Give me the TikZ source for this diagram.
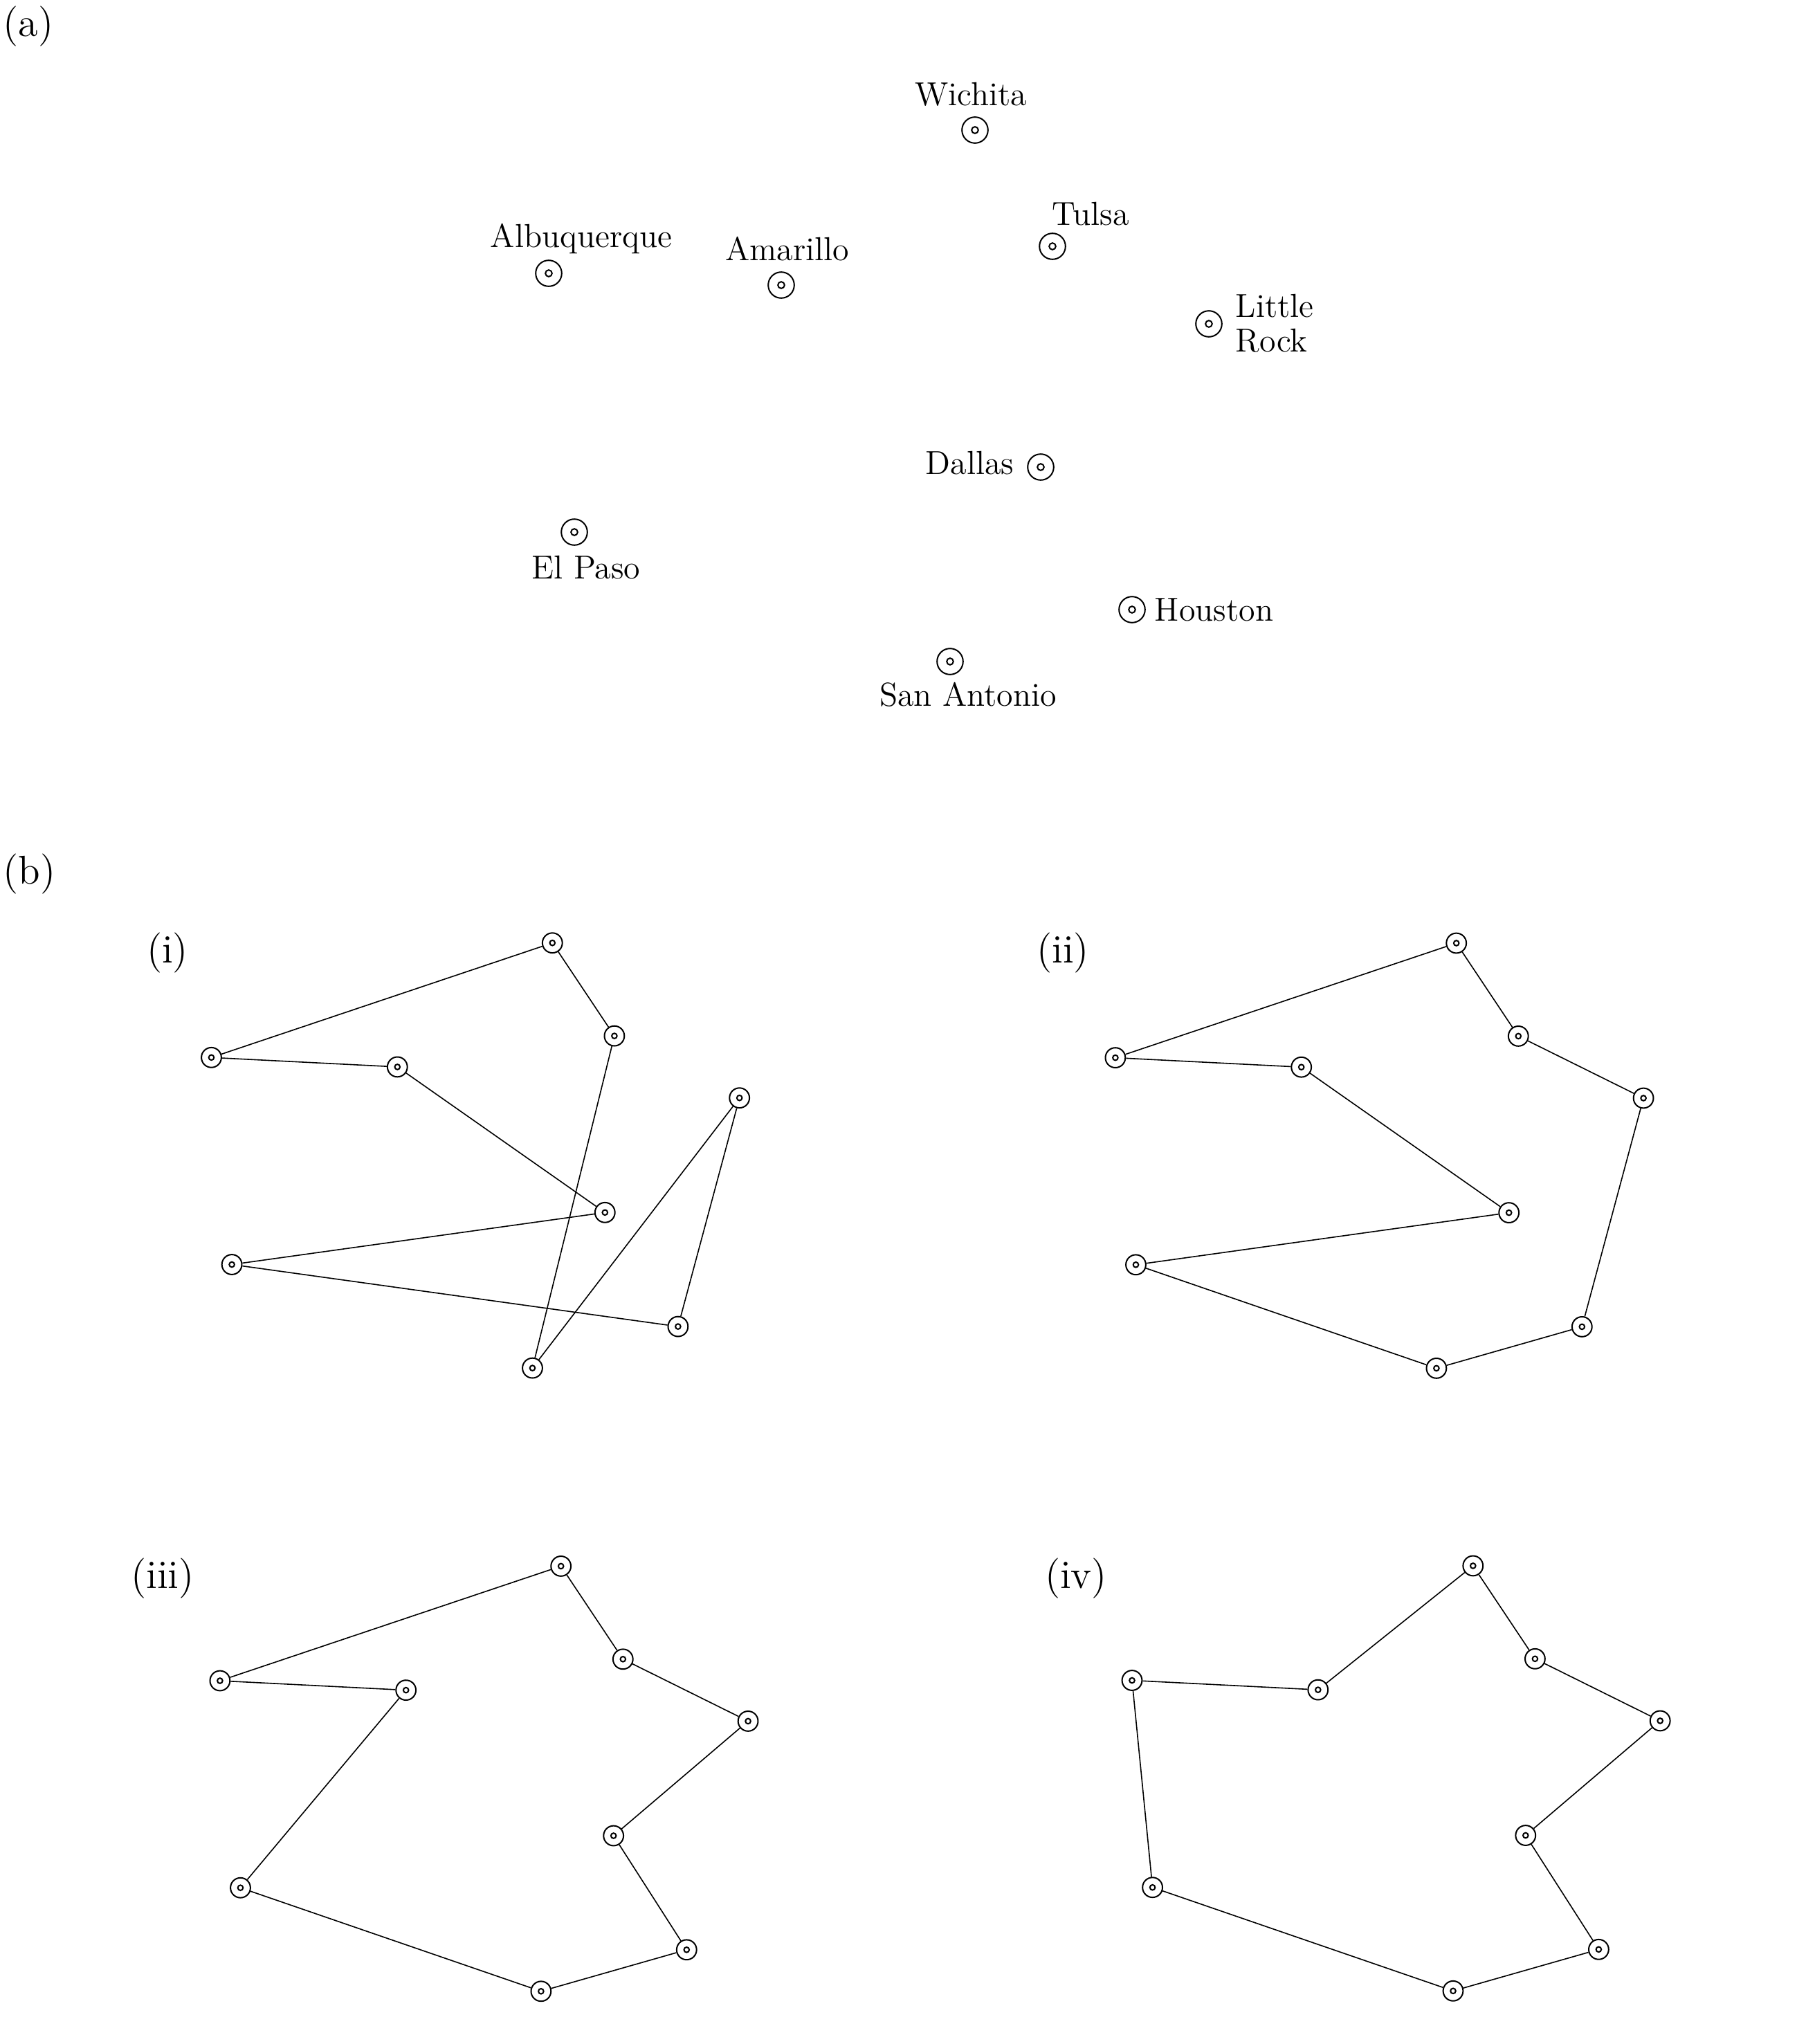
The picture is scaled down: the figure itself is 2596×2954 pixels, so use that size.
\documentclass[tikz,border=0pt]{standalone}
\usepackage{fontspec}
\begin{document}
\begin{tikzpicture}[x=0.25pt,y=-0.25pt,
  city/.style={circle,draw,line width=0.5pt,inner sep=0pt,minimum size=9.4pt,
    path picture={\draw[line width=0.5pt] (path picture bounding box.center) circle (1.2pt);}},
  town/.style={circle,draw,line width=0.5pt,inner sep=0pt,minimum size=7.2pt,
    path picture={\draw[line width=0.5pt] (path picture bounding box.center) circle (0.95pt);}},
  edge/.style={line width=0.4pt},
  lab/.style={inner sep=0pt,font=\fontsize{12}{12.5}\selectfont},
  plab/.style={inner sep=0pt,font=\fontsize{14.5}{17}\selectfont}]
\useasboundingbox (0,0) rectangle (2596,2954);
\def\cities{wi/1409/188,tu/1521/356,ab/793/395,am/1129/412,lr/1747/468,da/1504/675,ep/830/769,ho/1636/881,sa/1373/956}
% (a)
\node[plab,anchor=base west] (la) at (4,53) {(a)};
\foreach \n/\x/\y in \cities {\node[city] (a-\n) at (\x,\y) {};}
\node[lab,anchor=base] (t-wi) at (1403,152) {Wichita};
\node[lab,anchor=base west] (t-tu) at (1520,325) {Tulsa};
\node[lab,anchor=base] (t-ab) at (840,357) {Albuquerque};
\node[lab,anchor=base] (t-am) at (1138,376) {Amarillo};
\node[lab,anchor=base west] (t-lr1) at (1785,458) {Little};
\node[lab,anchor=base west] (t-lr2) at (1785,508) {Rock};
\node[lab,anchor=base east] (t-da) at (1466,685) {Dallas};
\node[lab,anchor=base] (t-ep) at (847,836) {El Paso};
\node[lab,anchor=base west] (t-ho) at (1668,897) {Houston};
\node[lab,anchor=base] (t-sa) at (1399,1020) {San Antonio};
% (b)
\node[plab,anchor=base west] (lb) at (4,1277) {(b)};
\node[plab,anchor=base] (l-i) at (242,1391) {(i)};
\node[plab,anchor=base] (l-ii) at (1536,1391) {(ii)};
\node[plab,anchor=base] (l-iii) at (235,2295) {(iii)};
\node[plab,anchor=base] (l-iv) at (1555,2295) {(iv)};
\foreach \p/\sx/\sy in {i/-82.225/-303.075,ii/244.375/-303.15,iii/-79.125/-528.25,iv/250.4/-528.125}{
  \begin{scope}[shift={(\sx pt,\sy pt)},x=0.2pt,y=-0.2pt]
    \foreach \n/\x/\y in \cities {\node[town] (\p-\n) at (\x,\y) {};}
  \end{scope}
}
\foreach \u/\v in {ab/wi,wi/tu,tu/sa,sa/lr,lr/ho,ho/ep,ep/da,da/am,am/ab}
  {\draw[edge] (i-\u) -- (i-\v);}
\foreach \u/\v in {ab/wi,wi/tu,tu/lr,lr/ho,ho/sa,sa/ep,ep/da,da/am,am/ab}
  {\draw[edge] (ii-\u) -- (ii-\v);}
\foreach \u/\v in {ab/wi,wi/tu,tu/lr,lr/da,da/ho,ho/sa,sa/ep,ep/am,am/ab}
  {\draw[edge] (iii-\u) -- (iii-\v);}
\foreach \u/\v in {ab/am,am/wi,wi/tu,tu/lr,lr/da,da/ho,ho/sa,sa/ep,ep/ab}
  {\draw[edge] (iv-\u) -- (iv-\v);}
\end{tikzpicture}
\end{document}
